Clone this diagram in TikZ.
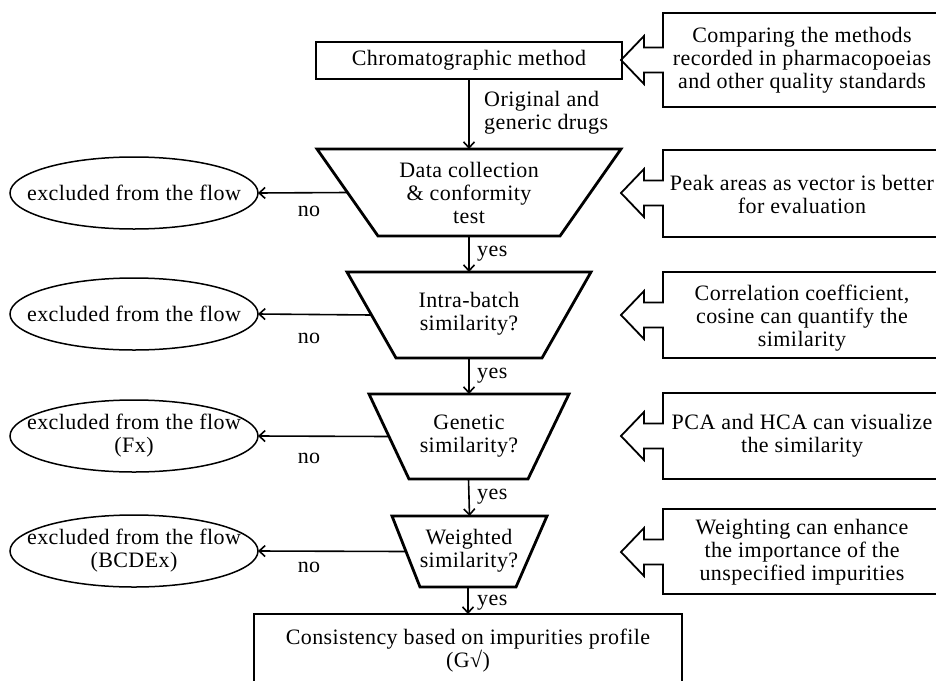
\documentclass[tikz,border=0pt]{standalone}
\usepackage{fontspec}
\setmainfont{Liberation Serif}[LetterSpace=2]
\usetikzlibrary{shapes.geometric,arrows.meta,calc}

\begin{document}
\begin{tikzpicture}[x=1pt,y=-1pt,
  every node/.style={font=\fontsize{22}{23}\selectfont, inner sep=0pt},
  thickframe/.style={line width=2.8pt},
  thinframe/.style={line width=1.8pt},
  ellframe/.style={line width=1.5pt},
  flow/.style={line width=1.6pt,-{Straight Barb[length=6pt,width=11pt]}},
  outcome/.style={align=center}]
\useasboundingbox (0,0) rectangle (936,680);
\fill [white] (0,0) rectangle (936,680);

% main column
\node (chrom) [draw,thickframe,minimum width=306,minimum height=37] at (469,60.5) {Chromatographic method};
\node (drugs) [anchor=west,align=left] at (484,113) {Original and\\generic drugs};

\coordinate (t1a) at (317,149); \coordinate (t1b) at (621,149);
\coordinate (t1c) at (560,236); \coordinate (t1d) at (378,236);
\draw [thickframe] (t1a) -- (t1b) -- (t1c) -- (t1d) -- cycle;
\node (test) [align=center] at (469,193) {Data collection\\\& conformity\\test};

\coordinate (t2a) at (347,272); \coordinate (t2b) at (591,272);
\coordinate (t2c) at (542,358); \coordinate (t2d) at (396,358);
\draw [thickframe] (t2a) -- (t2b) -- (t2c) -- (t2d) -- cycle;
\node (intra) [align=center] at (469,314) {Intra-batch\\similarity?};

\coordinate (t3a) at (369,394); \coordinate (t3b) at (569,394);
\coordinate (t3c) at (528,479); \coordinate (t3d) at (409,479);
\draw [thickframe] (t3a) -- (t3b) -- (t3c) -- (t3d) -- cycle;
\node (genetic) [align=center] at (469,436) {Genetic\\similarity?};

\coordinate (t4a) at (392,516); \coordinate (t4b) at (547,516);
\coordinate (t4c) at (516,587); \coordinate (t4d) at (420,587);
\draw [thickframe] (t4a) -- (t4b) -- (t4c) -- (t4d) -- cycle;
\node (weighted) [align=center] at (469,551) {Weighted\\similarity?};

\draw [thickframe] (254,614) rectangle (682,700);
\coordinate (resultn) at (468,614);
\node (result) [align=center] at (468,651) {Consistency based on impurities profile\\(G√)};

\draw [flow] (chrom.south) -- ($(t1a)!0.5!(t1b)$);
\draw [flow] ($(t1c)!0.5!(t1d)$) -- ($(t2a)!0.5!(t2b)$);
\draw [flow] ($(t2c)!0.5!(t2d)$) -- ($(t3a)!0.5!(t3b)$);
\draw [flow] ($(t3c)!0.5!(t3d)$) -- ($(t4a)!0.5!(t4b)$);
\draw [flow] ($(t4c)!0.5!(t4d)$) -- (resultn);

\node (yes1) [anchor=base west] at (477,256) {yes};
\node (yes2) [anchor=base west] at (477,378) {yes};
\node (yes3) [anchor=base west] at (477,499) {yes};
\node (yes4) [anchor=base west] at (477,605) {yes};

% rejected
\node (out1) [outcome] at (134,193) {excluded from the flow};
\node (out2) [outcome] at (134,314) {excluded from the flow};
\node (out3) [outcome] at (134,436) {excluded from the flow\\(Fx)};
\node (out4) [outcome] at (134,551) {excluded from the flow\\(BCDEx)};
\draw [ellframe] (out1) ellipse [x radius=124,y radius=36];
\draw [ellframe] (out2) ellipse [x radius=124,y radius=36];
\draw [ellframe] (out3) ellipse [x radius=124,y radius=36];
\draw [ellframe] (out4) ellipse [x radius=124,y radius=36];
\coordinate (out1e) at ($(out1)+(124,0)$);
\coordinate (out2e) at ($(out2)+(124,0)$);
\coordinate (out3e) at ($(out3)+(124,0)$);
\coordinate (out4e) at ($(out4)+(124,0)$);

\draw [flow] ($(t1a)!0.5!(t1d)$) -- (out1e);
\draw [flow] ($(t2a)!0.5!(t2d)$) -- (out2e);
\draw [flow] ($(t3a)!0.5!(t3d)$) -- (out3e);
\draw [flow] ($(t4a)!0.5!(t4d)$) -- (out4e);

\node (no1) at (309,211) {no};
\node (no2) at (309,338) {no};
\node (no3) at (309,458) {no};
\node (no4) at (309,567) {no};

% notes on the right
\foreach \t/\c/\b in {13/60/107,150/193/237,272/315/358,393/436/479,509/552/594}
  \draw [thinframe] (940,\t) -- (663,\t) -- (663,\c-12.5) -- (644,\c-12.5) -- (644,\c-24)
    -- (621,\c) -- (644,\c+24) -- (644,\c+12.5) -- (663,\c+12.5) -- (663,\b) -- (940,\b);

\node (note1) [align=center] at (802,60) {Comparing the methods\\recorded in pharmacopoeias\\and other quality standards};
\node (note2) [align=center] at (802,194) {Peak areas as vector is better\\for evaluation};
\node (note3) [align=center] at (802,318) {Correlation coefficient,\\cosine can quantify the\\similarity};
\node (note4) [align=center] at (802,436) {PCA and HCA can visualize\\the similarity};
\node (note5) [align=center] at (802,552) {Weighting can enhance\\the importance of the\\unspecified impurities};
\end{tikzpicture}
\end{document}
